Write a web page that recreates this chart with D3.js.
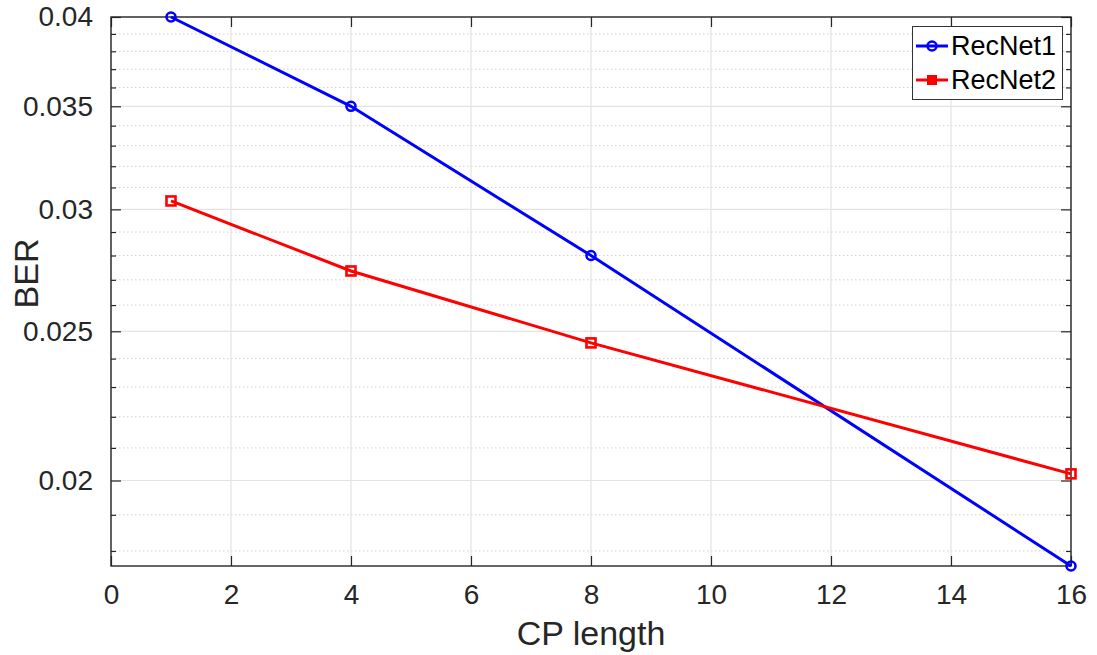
<!DOCTYPE html>
<html>
<head>
<meta charset="utf-8">
<script src="https://cdn.jsdelivr.net/npm/d3@7"></script>
<style>
  html, body { margin: 0; padding: 0; background: #fff; }
  svg { display: block; font-family: "Liberation Sans", Arial, sans-serif; }
</style>
</head>
<body>
<svg id="chart" width="1097" height="655"></svg>
<script>
// CP length values on the x axis
const cpLength = [1, 4, 8, 16];
// Bit error rate for each receiver network
const recNet1 = [0.04, 0.035, 0.028, 0.0176];
const recNet2 = [0.03038, 0.02736, 0.02457, 0.0202];
const seriesNames = ["RecNet1", "RecNet2"];
const xTicks = [0, 2, 4, 6, 8, 10, 12, 14, 16];
const yTicks = [0.02, 0.025, 0.03, 0.035, 0.04];
const yTickLabels = ["0.02", "0.025", "0.03", "0.035", "0.04"];
const yMinorTicks = [0.018, 0.019, 0.021, 0.022, 0.023, 0.024, 0.026, 0.027, 0.028, 0.029,
                     0.031, 0.032, 0.033, 0.034, 0.036, 0.037, 0.038, 0.039];

(function () {
const svg = d3.select("#chart");
const padL = 111, padR = 1071, padT = 17, padB = 566;
const ink = "#262626";

const allVals = recNet1.concat(recNet2);
const x = d3.scaleLinear().domain([0, 16]).range([padL, padR]);
const y = d3.scaleLog().domain([d3.min(allVals), d3.max(allVals)]).range([padB, padT]);
const minorIn = yMinorTicks.filter(v => v >= y.domain()[0]);

// grid
const grid = svg.append("g");
grid.selectAll(".ymin").data(minorIn).enter().append("line")
  .attr("x1", padL).attr("x2", padR)
  .attr("y1", d => y(d)).attr("y2", d => y(d))
  .attr("stroke", "#d0d0d0").attr("stroke-width", 1).attr("stroke-dasharray", "1.5,2.5");
grid.selectAll(".ymaj").data(yTicks).enter().append("line")
  .attr("x1", padL).attr("x2", padR)
  .attr("y1", d => y(d)).attr("y2", d => y(d))
  .attr("stroke", "#e3e3e3").attr("stroke-width", 1.2);
grid.selectAll(".xmaj").data(xTicks).enter().append("line")
  .attr("y1", padT).attr("y2", padB)
  .attr("x1", d => x(d)).attr("x2", d => x(d))
  .attr("stroke", "#e3e3e3").attr("stroke-width", 1.2);

// axes (ticks pointing inward, mirrored on the box)
const fmtY = d => yTickLabels[yTicks.indexOf(d)];
const axBottom = d3.axisBottom(x).tickValues(xTicks).tickSize(-10).tickPadding(18).tickFormat(d3.format("d"));
const axTop = d3.axisTop(x).tickValues(xTicks).tickSize(-10).tickFormat("");
const axLeft = d3.axisLeft(y).tickValues(yTicks).tickSize(-10).tickPadding(18).tickFormat(fmtY);
const axRight = d3.axisRight(y).tickValues(yTicks).tickSize(-10).tickFormat("");
const axLeftMinor = d3.axisLeft(y).tickValues(minorIn).tickSize(-5).tickFormat("");
const axRightMinor = d3.axisRight(y).tickValues(minorIn).tickSize(-5).tickFormat("");

function styleAxis(g) {
  g.select(".domain").remove();
  g.selectAll(".tick line").attr("stroke", ink).attr("stroke-width", 1.2);
  g.selectAll(".tick text").attr("fill", ink).attr("font-size", 28)
    .attr("font-family", "'Liberation Sans', Arial, sans-serif");
}
svg.append("g").attr("transform", `translate(0,${padB})`).call(axBottom).call(styleAxis);
svg.append("g").attr("transform", `translate(0,${padT})`).call(axTop).call(styleAxis);
svg.append("g").attr("transform", `translate(${padL},0)`).call(axLeft).call(styleAxis);
svg.append("g").attr("transform", `translate(${padR},0)`).call(axRight).call(styleAxis);
svg.append("g").attr("transform", `translate(${padL},0)`).call(axLeftMinor).call(styleAxis);
svg.append("g").attr("transform", `translate(${padR},0)`).call(axRightMinor).call(styleAxis);

// box
svg.append("rect").attr("x", padL).attr("y", padT).attr("width", padR - padL).attr("height", padB - padT)
  .attr("fill", "none").attr("stroke", ink).attr("stroke-width", 1.4);

// axis titles
svg.append("text").attr("x", (padL + padR) / 2).attr("y", 645).attr("text-anchor", "middle")
  .attr("font-size", 34).attr("fill", ink).text("CP length");
svg.append("text").attr("transform", `translate(38,${(padT + padB) / 2 - 18}) rotate(-90)`)
  .attr("text-anchor", "middle").attr("font-size", 34).attr("fill", ink).text("BER");

// series
const line = d3.line().x((d, i) => x(cpLength[i])).y(d => y(d));
const plot = svg.append("g");
plot.append("path").datum(recNet1).attr("d", line).attr("fill", "none")
  .attr("stroke", "#0000ff").attr("stroke-width", 3);
plot.append("path").datum(recNet2).attr("d", line).attr("fill", "none")
  .attr("stroke", "#ff0000").attr("stroke-width", 3);

plot.selectAll(".c1").data(recNet1).enter().append("circle")
  .attr("cx", (d, i) => x(cpLength[i])).attr("cy", d => y(d)).attr("r", 4.5)
  .attr("fill", "none").attr("stroke", "#0000ff").attr("stroke-width", 2.6);
plot.selectAll(".s2").data(recNet2).enter().append("rect")
  .attr("x", (d, i) => x(cpLength[i]) - 4.5).attr("y", d => y(d) - 4.5)
  .attr("width", 9).attr("height", 9)
  .attr("fill", "none").attr("stroke", "#ff0000").attr("stroke-width", 2.6);

// legend
const lg = svg.append("g");
lg.append("rect").attr("x", 912.5).attr("y", 26.5).attr("width", 150).attr("height", 73)
  .attr("fill", "#fff").attr("stroke", "#333").attr("stroke-width", 1);
const lgColors = ["#0000ff", "#ff0000"];
seriesNames.forEach((name, i) => {
  const cy = 46 + i * 34;
  lg.append("line").attr("x1", 916).attr("x2", 948).attr("y1", cy).attr("y2", cy)
    .attr("stroke", lgColors[i]).attr("stroke-width", 3);
  if (i === 0) {
    lg.append("circle").attr("cx", 932).attr("cy", cy).attr("r", 4.5)
      .attr("fill", "none").attr("stroke", lgColors[i]).attr("stroke-width", 2.6);
  } else {
    lg.append("rect").attr("x", 928).attr("y", cy - 4).attr("width", 8).attr("height", 8)
      .attr("fill", lgColors[i]).attr("stroke", lgColors[i]).attr("stroke-width", 2);
  }
  lg.append("text").attr("x", 951).attr("y", cy + 9).attr("font-size", 27).attr("fill", "#000").text(name);
});
})();
</script>
</body>
</html>
